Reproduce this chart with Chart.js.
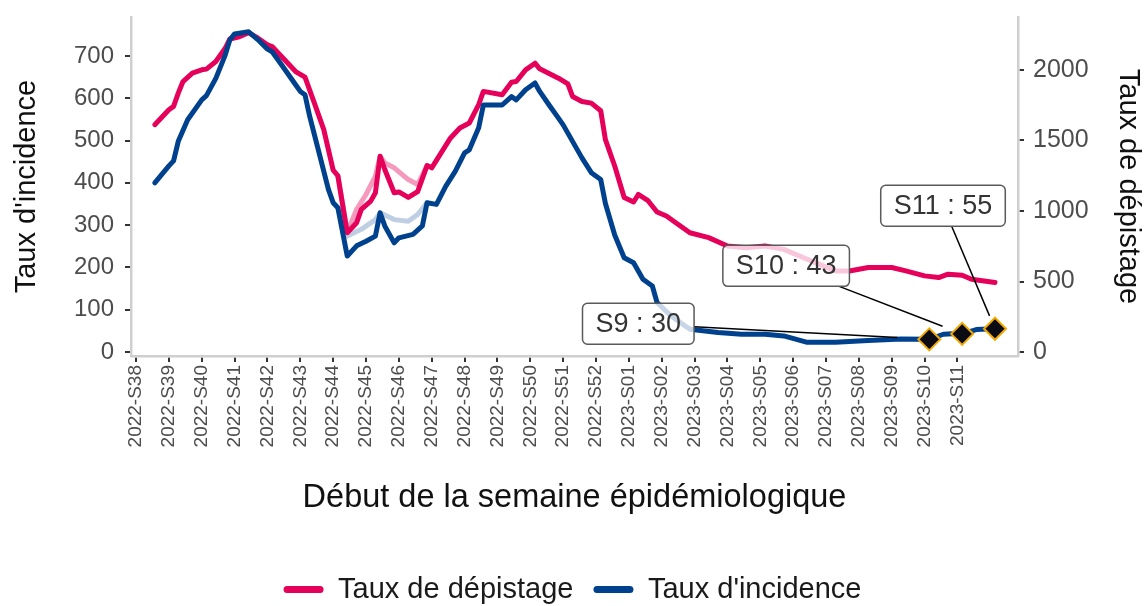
<!DOCTYPE html>
<html><head><meta charset="utf-8">
<script src="https://cdn.jsdelivr.net/npm/chart.js@4/dist/chart.umd.min.js"></script>
<style>html,body{margin:0;padding:0;background:#fff}#wrap{width:1145px;height:606px}</style>
</head><body><div id="wrap"><canvas id="c" width="1145" height="606"></canvas></div>
<script>
// ---- data ----
const weekLabels = ['2022-S38','2022-S39','2022-S40','2022-S41','2022-S42','2022-S43','2022-S44','2022-S45',
  '2022-S46','2022-S47','2022-S48','2022-S49','2022-S50','2022-S51','2022-S52','2023-S01','2023-S02','2023-S03',
  '2023-S04','2023-S05','2023-S06','2023-S07','2023-S08','2023-S09','2023-S10','2023-S11'];
const tickDays = weekLabels.map((_, i) => i * 7);
const incTicks = [0,100,200,300,400,500,600,700];
const depTicks = [0,500,1000,1500,2000];

const incDays = [4,7,8,9,11,14,15,17,19,20,21,24,26,28,29,31,34,35,36,37,39,41,42,43,45,47,49,51,52,53,55,56,59,61,62,64,66,68,70,71,73,74,76,78,80,81,83,85,86,88,90,91,93,95,97,99,100,102,104,106,108,110,111,114,118,124,129,134,138,143,149,156,163,169,172,174,176,179,183];
const incValues = [400,440,452,498,549,596,606,647,702,738,752,757,738,716,710,679,632,616,608,557,471,384,353,341,227,251,262,274,329,298,258,270,278,298,353,349,392,427,471,478,530,584,584,584,604,596,620,636,616,584,553,537,498,459,424,408,351,276,223,211,172,156,117,85,54,46,42,42,38,23,23,27,31,30,42,43,43,53,55];

const depDays = [4,7,8,9,10,12,14,15,17,19,20,22,24,26,28,29,31,34,36,38,40,42,43,45,47,48,50,51,52,53,55,56,58,60,62,63,65,67,69,71,73,74,78,80,81,83,85,86,90,92,93,95,97,99,100,102,104,106,107,109,111,113,115,118,122,126,130,134,138,143,149,152,156,161,164,168,171,173,176,178,183];
const depValues = [1612,1718,1742,1836,1918,1978,2001,2006,2060,2154,2220,2236,2265,2225,2178,2166,2095,1989,1949,1765,1577,1290,1250,846,917,1011,1070,1129,1388,1294,1129,1135,1096,1138,1322,1306,1412,1518,1589,1624,1754,1848,1824,1913,1918,2001,2048,2008,1942,1902,1812,1777,1765,1711,1506,1317,1096,1064,1117,1076,993,964,917,846,811,752,740,752,728,658,575,575,599,599,575,540,528,552,544,516,493];

const prevIncDays = [43,45,48,51,52,55,58,60,62];
const prevIncValues = [341,274,290,313,329,313,309,325,353];
const prevDepDays = [43,45,47,49,51,52,53,55,58,60,62];
const prevDepValues = [1250,850,1011,1117,1247,1388,1340,1306,1223,1188,1322];

const markerWeeks = ['S9','S10','S11'];
const markerDays = [169,176,183];
const markerValues = [30,43,55];

// ---- styling ----
const RED = '#E5005A', BLUE = '#00418E';
const FONT = "'Liberation Sans', Arial, Helvetica, sans-serif";
Chart.defaults.font.family = FONT;
const toXY = (d, v) => d.map((x, i) => ({x, y: v[i]}));

const repelLabels = {
  id: 'repelLabels',
  afterDatasetsDraw(chart, args, opts) {
    const {ctx, scales} = chart;
    ctx.save();
    ctx.font = opts.fontSize + 'px ' + FONT;
    markerDays.forEach((day, i) => {
      const off = opts.offsets[i];
      const ax = scales.x.getPixelForValue(day), ay = scales.y.getPixelForValue(markerValues[i]);
      const cx = ax + off.dx, cy = ay + off.dy;
      const text = markerWeeks[i] + ' : ' + markerValues[i];
      const w = ctx.measureText(text).width + 2 * opts.padX, h = opts.height;
      const vx = ax - cx, vy = ay - cy;
      const t = Math.min((w / 2) / Math.max(Math.abs(vx), 1e-6), (h / 2) / Math.max(Math.abs(vy), 1e-6));
      const sx = cx + vx * t, sy = cy + vy * t;
      const len = Math.hypot(vx, vy);
      const ex = ax - vx / len * off.gap, ey = ay - vy / len * off.gap;
      ctx.strokeStyle = '#000'; ctx.lineWidth = 1.5;
      ctx.beginPath(); ctx.moveTo(sx, sy); ctx.lineTo(ex, ey); ctx.stroke();
      ctx.beginPath(); ctx.roundRect(cx - w / 2, cy - h / 2, w, h, 5);
      ctx.fillStyle = 'rgba(255,255,255,0.78)'; ctx.fill();
      ctx.strokeStyle = '#5a5a5a'; ctx.lineWidth = 1.5; ctx.stroke();
      ctx.fillStyle = '#333'; ctx.textAlign = 'center'; ctx.textBaseline = 'middle';
      ctx.fillText(text, cx, cy + 1);
    });
    ctx.restore();
  }
};

const lineDs = (label, days, vals, axis, color, order) => ({
  label, data: toXY(days, vals), yAxisID: axis, borderColor: color, backgroundColor: color,
  borderWidth: 5, pointRadius: 0, tension: 0, order, borderJoinStyle: 'round', borderCapStyle: 'round', fill: false
});

const tickGrid = {drawOnChartArea: false, drawTicks: true, tickLength: 6, color: '#333', lineWidth: 2};
const axisBorder = {display: true, color: '#CFCFCF', width: 2.5};
const noPad = s => { s.paddingTop = 0; s.paddingBottom = 0; s.paddingLeft = 0; s.paddingRight = 0; };

new Chart(document.getElementById('c'), {
  type: 'line',
  data: {
    datasets: [
      lineDs('Taux de dépistage', depDays, depValues, 'y2', RED, 2),
      lineDs("Taux d'incidence", incDays, incValues, 'y', BLUE, 1),
      lineDs('prev-dep', prevDepDays, prevDepValues, 'y2', 'rgba(229,0,90,0.4)', 4),
      lineDs('prev-inc', prevIncDays, prevIncValues, 'y', 'rgba(0,65,142,0.25)', 3),
      {label: 'markers', data: toXY(markerDays, markerValues), yAxisID: 'y', showLine: false,
       pointStyle: 'rectRot', pointRadius: 11, backgroundColor: '#0B0B14', borderColor: '#F2A900', borderWidth: 2, order: 0}
    ]
  },
  options: {
    responsive: false, animation: false,
    layout: {padding: {top: 17, bottom: -8, left: 0, right: 0}},
    plugins: {
      tooltip: {enabled: false},
      legend: {
        position: 'bottom',
        labels: {
          boxWidth: 40, boxHeight: 7, padding: 20, color: '#1A1A1A', font: {size: 29},
          useBorderRadius: true, borderRadius: 3.5,
          sort: (a, b) => a.datasetIndex - b.datasetIndex,
          generateLabels: chart => Chart.defaults.plugins.legend.labels.generateLabels(chart)
            .filter(l => l.datasetIndex < 2).map(l => Object.assign(l, {lineWidth: 0}))
        }
      },
      repelLabels: {
        fontSize: 27, padX: 13, height: 41,
        offsets: [{dx: -291, dy: -15.6, gap: 32}, {dx: -176, dy: -68, gap: 21}, {dx: -52, dy: -123, gap: 14}]
      }
    },
    scales: {
      x: {
        type: 'linear', min: -1.07, max: 187.9,
        afterBuildTicks: s => { s.ticks = tickDays.map(v => ({value: v})); },
        afterFit: s => { s.height = 199; noPad(s); },
        ticks: {autoSkip: false, minRotation: 90, maxRotation: 90, padding: 3, color: '#4D4D4D',
                font: {size: 19}, callback: (v, i) => weekLabels[i]},
        grid: tickGrid, border: axisBorder,
        title: {display: true, text: 'Début de la semaine épidémiologique', color: '#111',
                font: {size: 32.5}, padding: {top: 0, bottom: 37}}
      },
      y: {
        position: 'left', min: -9.4, max: 792,
        afterBuildTicks: s => { s.ticks = incTicks.map(v => ({value: v})); },
        afterFit: s => { s.width = 131; noPad(s); },
        ticks: {color: '#4D4D4D', font: {size: 24}, padding: 11, callback: v => String(v)},
        grid: tickGrid, border: axisBorder,
        title: {display: true, text: "Taux d'incidence", color: '#111', font: {size: 29}, padding: {top: 10, bottom: 0}}
      },
      y2: {
        position: 'right', min: -28.3, max: 2375.7,
        afterBuildTicks: s => { s.ticks = depTicks.map(v => ({value: v})); },
        afterFit: s => { s.width = 127; noPad(s); },
        ticks: {color: '#4D4D4D', font: {size: 25}, padding: 9, callback: v => String(v)},
        grid: tickGrid, border: axisBorder,
        title: {display: true, text: 'Taux de dépistage', color: '#111', font: {size: 29}, padding: {top: 0, bottom: 0}}
      }
    }
  },
  plugins: [repelLabels]
});
</script>
</body></html>
